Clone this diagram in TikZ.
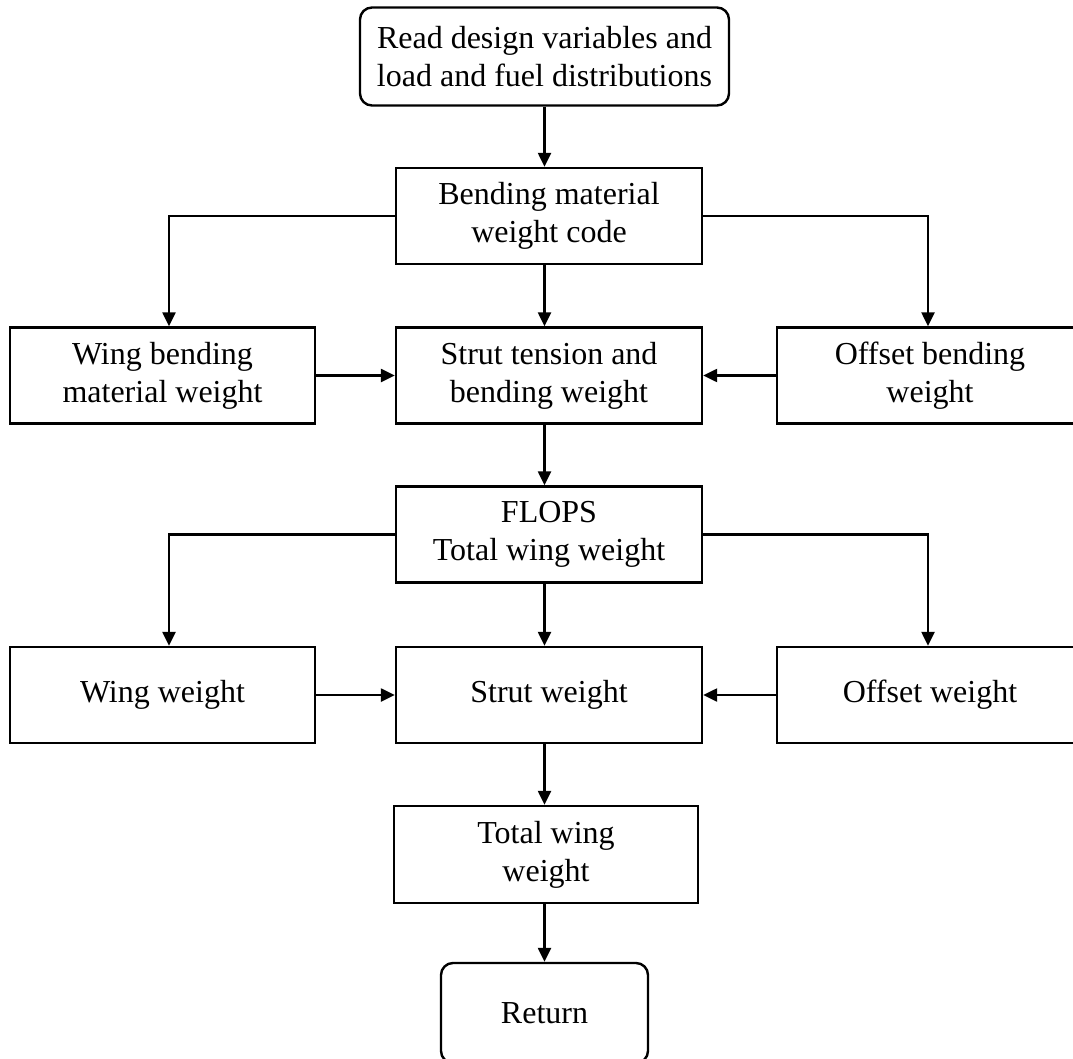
\documentclass[tikz,border=0pt]{standalone}
\usepackage{fontspec}
\setmainfont{Liberation Serif}
\usetikzlibrary{arrows.meta}

\begin{document}
\begin{tikzpicture}[x=1pt, y=-1pt, line width=2.4pt,
    every node/.style={draw, align=center, inner sep=0pt, font=\fontsize{32}{38}\selectfont},
    box/.style={rectangle, minimum width=306pt, minimum height=96pt},
    term/.style={rectangle, rounded corners=12pt, minimum height=98pt},
    arr/.style={-{Triangle[length=14pt, width=13pt]}}]
    \useasboundingbox (0,0) rectangle (1073,1059);

    % middle column
    \node[term, minimum width=369pt] (read) at (544.5,56.5) {Read design variables and\\load and fuel distributions};
    \node[box] (bend) at (549,216) {Bending material\\weight code};
    \node[box] (stbend) at (549,375.5) {Strut tension and\\bending weight};
    \node[box] (flops) at (549,534.5) {FLOPS\\Total wing weight};
    \node[box] (strutw) at (549,695) {Strut weight};
    \node[box, minimum width=304pt, minimum height=97pt] (total) at (546,854.5) {Total wing\\weight};
    \node[term, minimum width=207pt, minimum height=100pt] (ret) at (544.5,1013) {Return};

    % side boxes
    \node[box, minimum width=305pt] (wingbend) at (162.5,375.5) {Wing bending\\material weight};
    \node[box, minimum width=306pt] (offbend) at (930,375.5) {Offset bending\\weight};
    \node[box, minimum width=305pt] (wingw) at (162.5,695) {Wing weight};
    \node[box, minimum width=306pt] (offw) at (930,695) {Offset weight};

    % connectors
    \draw[arr] (read.south) -- (read.south |- bend.north);
    \draw[arr] (read.south |- bend.south) -- (read.south |- stbend.north);
    \draw[arr] (read.south |- stbend.south) -- (read.south |- flops.north);
    \draw[arr] (read.south |- flops.south) -- (read.south |- strutw.north);
    \draw[arr] (read.south |- strutw.south) -- (read.south |- total.north);
    \draw[arr] (read.south |- total.south) -- (read.south |- ret.north);

    \draw[arr] (bend.west) -| ([xshift=6.5pt]wingbend.north);
    \draw[arr] (bend.east) -| ([xshift=-2pt]offbend.north);
    \draw[arr] (flops.west) -| ([xshift=6.5pt]wingw.north);
    \draw[arr] (flops.east) -| ([xshift=-2pt]offw.north);

    \draw[arr] (wingbend.east) -- (stbend.west);
    \draw[arr] (offbend.west) -- (stbend.east);
    \draw[arr] (wingw.east) -- (strutw.west);
    \draw[arr] (offw.west) -- (strutw.east);
\end{tikzpicture}
\end{document}
